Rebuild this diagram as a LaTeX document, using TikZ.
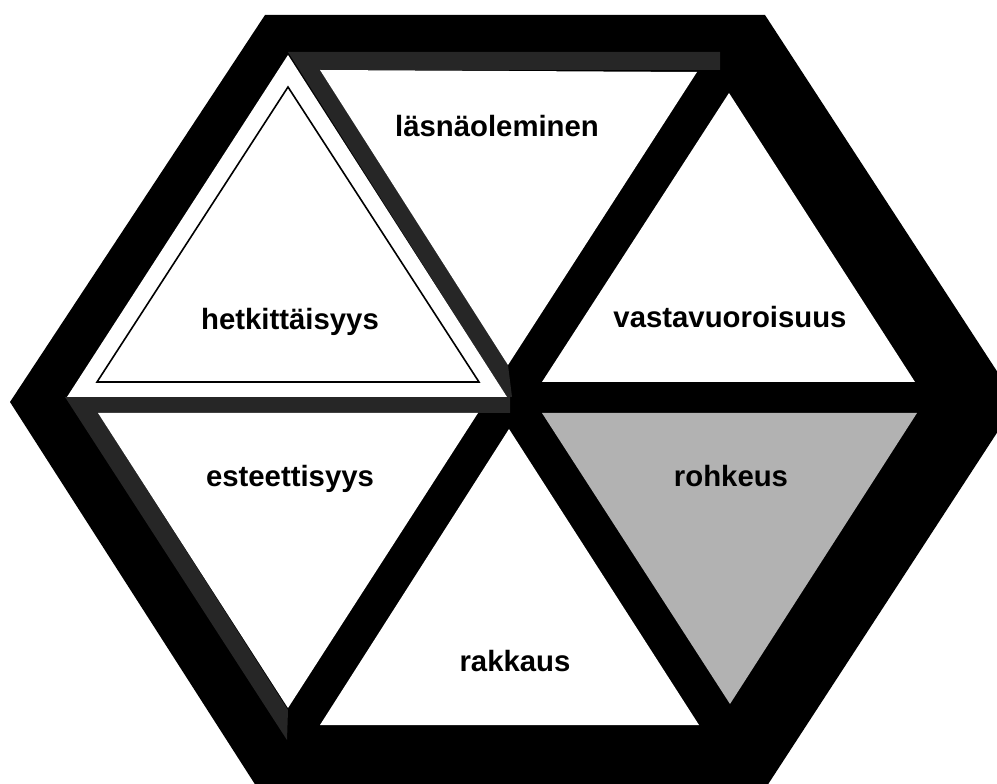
\documentclass[tikz,border=0pt]{standalone}
\usepackage{fontspec}
\setmainfont{Liberation Sans}
\usepackage{tikz}
\usetikzlibrary{positioning}
\tikzset{every node/.style={align=center}}

\begin{document}
\begin{tikzpicture}[x=0.75pt,y=-0.75pt,
    frame/.style={fill=black},
    band/.style={fill=black!85},
    tri/.style={fill=white},
    shade/.style={fill=black!30},
    lbl/.style={font=\fontsize{22}{26}\selectfont\bfseries,anchor=base,inner sep=0pt}
]
  \useasboundingbox (0,0) rectangle (997,784);
  \clip (0,0) rectangle (997,784);
  \fill[white] (0,0) rectangle (997,784);

  \fill[frame] (265,15) -- (765,15) -- (1017,402) -- (765,789) -- (258,789) -- (10,402) -- cycle;

  \fill[band] (288,52) -- (720,52) -- (720,70) -- (320,70) -- (508,365) -- (512,397) -- (507,397) -- cycle;
  \fill[band] (65,397) -- (510,397) -- (510,413) -- (98,413) -- (288,710) -- (287,740) -- cycle;

  \fill[tri]   (288,55)  -- (507,397) -- (67,397)  -- cycle;
  \draw[line width=1.2pt] (288,87) -- (479,382) -- (97,382) -- cycle;
  \fill[tri]   (320,70)  -- (697,72)  -- (508,365) -- cycle;
  \fill[tri]   (729,93)  -- (915,382) -- (542,382) -- cycle;
  \fill[shade] (542,413) -- (917,413) -- (730,704) -- cycle;
  \fill[tri]   (509,429) -- (699,725) -- (320,725) -- cycle;
  \fill[tri]   (98,413)  -- (478,413) -- (288,708) -- cycle;

  \node[lbl] (hetk)  at (290,330) {hetkittäisyys};
  \node[lbl] (lasna) at (497,137) {läsnäoleminen};
  \node[lbl] (vasta) at (730,328) {vastavuoroisuus};
  \node[lbl] (estet) at (290,486) {esteettisyys};
  \node[lbl] (rohk)  at (731,486) {rohkeus};
  \node[lbl] (rakk)  at (515,671) {rakkaus};
\end{tikzpicture}
\end{document}
